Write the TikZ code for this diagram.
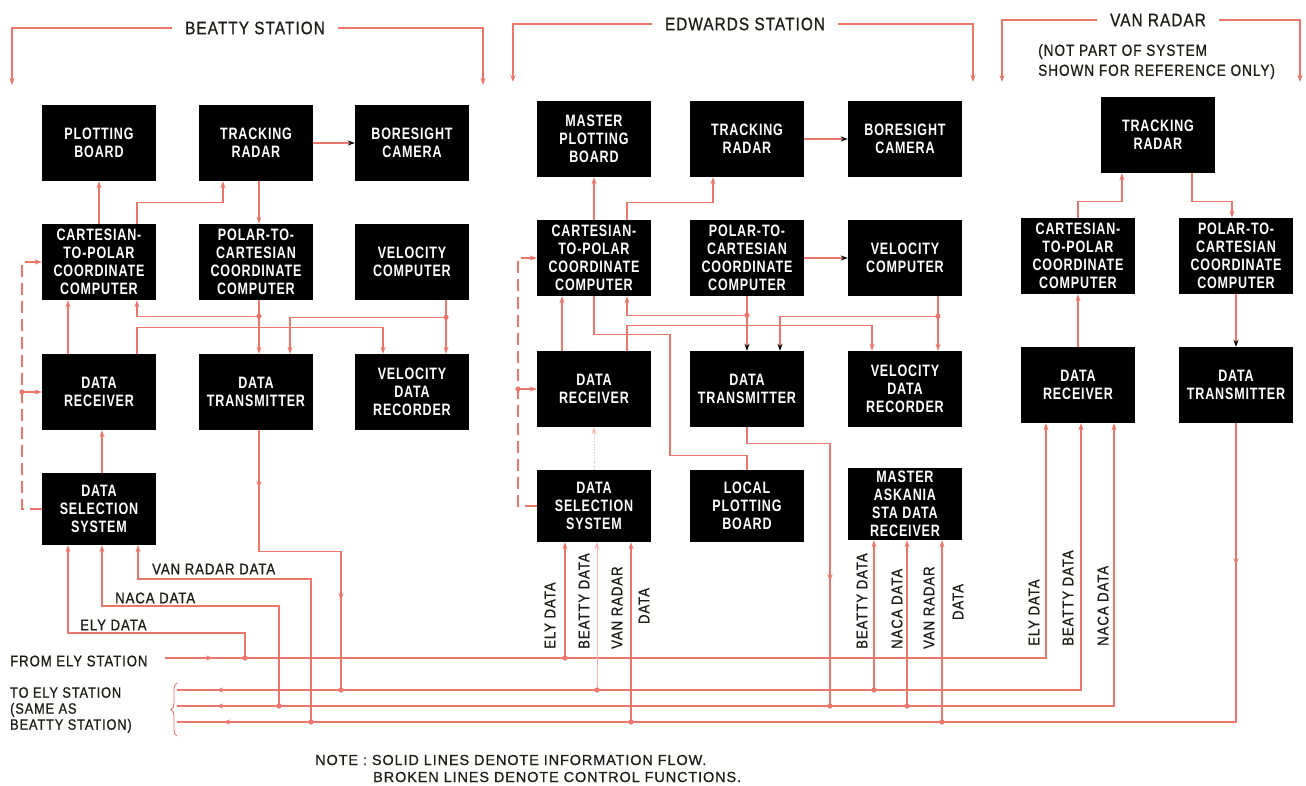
\documentclass[tikz,border=0pt]{standalone}
\usepackage{fontspec}
\usepackage{tikz}
\usetikzlibrary{positioning,arrows.meta,calc,decorations.markings,decorations.pathreplacing}
\newfontfamily\boxfont{Liberation Sans}[FakeStretch=0.76,LetterSpace=5]
\newfontfamily\lblfont{Liberation Sans}[FakeStretch=0.85,LetterSpace=6,FakeBold=0.8]
\newfontfamily\notefont{Liberation Sans}[LetterSpace=6,FakeBold=0.6]
\definecolor{wirered}{RGB}{236,118,106}
\definecolor{ink}{RGB}{28,28,24}

\begin{document}
\begin{tikzpicture}[
  x=1pt,y=-1pt,
  wtip/.tip={Stealth[length=7pt,width=5pt]},
  ktip/.tip={Stealth[length=7pt,width=5pt,color=black]},
  >=wtip,
  blk/.style={fill=black, text=white, align=center, inner sep=0pt,
    minimum width=114pt, minimum height=76pt,
    font=\boxfont\bfseries\fontsize{16.5}{18}\selectfont},
  low/.style={minimum height=72pt},
  bus/.style={draw, color=wirered, line width=1.1pt},
  flow/.style={bus, ->},
  btip/.style={bus, -ktip},
  ctrl/.style={bus, ->, dash pattern=on 12pt off 6pt},
  faint/.style={draw, color=wirered!55, line width=0.8pt, ->},
  head/.style={text=ink, inner xsep=13pt, font=\lblfont\fontsize{18}{20}\selectfont},
  lbl/.style={text=ink, inner sep=0pt, font=\lblfont\fontsize{15.5}{16}\selectfont},
  vlbl/.style={lbl, rotate=90, anchor=west}
]
\fill[white] (0,0) rectangle (1306,785);
\useasboundingbox (0,0) rectangle (1306,785);

% beatty station
\node[blk] (bpb)   at (99,143)  {PLOTTING\\BOARD};
\node[blk] (btr)   at (256,143) {TRACKING\\RADAR};
\node[blk] (bcam)  at (412,143) {BORESIGHT\\CAMERA};
\node[blk] (bctp)  at (99,262)  {CARTESIAN-\\TO-POLAR\\COORDINATE\\COMPUTER};
\node[blk] (bptc)  at (256,262) {POLAR-TO-\\CARTESIAN\\COORDINATE\\COMPUTER};
\node[blk] (bvc)   at (412,262) {VELOCITY\\COMPUTER};
\node[blk] (bdr)   at (99,392)  {DATA\\RECEIVER};
\node[blk] (bdt)   at (256,392) {DATA\\TRANSMITTER};
\node[blk] (bvdr)  at (412,392) {VELOCITY\\DATA\\RECORDER};
\node[blk, low] (bdss) at (99,509) {DATA\\SELECTION\\SYSTEM};

% edwards station
\node[blk] (empb)  at (594,139) {MASTER\\PLOTTING\\BOARD};
\node[blk] (etr)   at (747,139) {TRACKING\\RADAR};
\node[blk] (ecam)  at (905,139) {BORESIGHT\\CAMERA};
\node[blk] (ectp)  at (594,258) {CARTESIAN-\\TO-POLAR\\COORDINATE\\COMPUTER};
\node[blk] (eptc)  at (747,258) {POLAR-TO-\\CARTESIAN\\COORDINATE\\COMPUTER};
\node[blk] (evc)   at (905,258) {VELOCITY\\COMPUTER};
\node[blk] (edr)   at (594,389) {DATA\\RECEIVER};
\node[blk] (edt)   at (747,389) {DATA\\TRANSMITTER};
\node[blk] (evdr)  at (905,389) {VELOCITY\\DATA\\RECORDER};
\node[blk, low] (edss) at (594,506) {DATA\\SELECTION\\SYSTEM};
\node[blk, low] (elpb) at (747,506) {LOCAL\\PLOTTING\\BOARD};
\node[blk, low] (eask) at (905,504) {MASTER\\ASKANIA\\STA DATA\\RECEIVER};

% van radar
\node[blk] (vtr)   at (1158,135) {TRACKING\\RADAR};
\node[blk] (vctp)  at (1078,256) {CARTESIAN-\\TO-POLAR\\COORDINATE\\COMPUTER};
\node[blk] (vptc)  at (1236,256) {POLAR-TO-\\CARTESIAN\\COORDINATE\\COMPUTER};
\node[blk] (vdr)   at (1078,385) {DATA\\RECEIVER};
\node[blk] (vdt)   at (1236,385) {DATA\\TRANSMITTER};

% headings
\node[head] (hbeatty) at (255,28) {BEATTY STATION};
\node[head] (hedw)    at (745,24) {EDWARDS STATION};
\node[head] (hvan)    at (1158,20) {VAN RADAR};
\node[lbl, align=left, anchor=north west, font=\lblfont\fontsize{16}{20}\selectfont] (vnote) at (1038,44)
  {(NOT PART OF SYSTEM\\SHOWN FOR REFERENCE ONLY)};
\coordinate (bl) at (12,85);   \coordinate (br) at (483,85);
\coordinate (el) at (513,82);  \coordinate (er) at (973,82);
\coordinate (vl) at (1002,82); \coordinate (vr) at (1300,82);
\draw[flow] (hbeatty.west) -| (bl);
\draw[flow] (hbeatty.east) -| (br);
\draw[flow] (hedw.west) -| (el);
\draw[flow] (hedw.east) -| (er);
\draw[flow] (hvan.west) -| (vl);
\draw[flow] (hvan.east) -| (vr);

% beatty links
\draw[flow] (bctp.north) -- (bpb.south);
\draw[flow] ([xshift=38pt]bctp.north) -- ++(0,-21) -| ([xshift=-33pt]btr.south);
\draw[btip] (btr.east) -- (bcam.west);
\draw[flow] ([xshift=3pt]btr.south) -- ([xshift=3pt]bptc.north);
\draw[flow] ([xshift=3pt]bptc.south) -- ++(0,16) coordinate (bj1) -- ([xshift=3pt]bdt.north);
\draw[flow] (bj1) -| ([xshift=38pt]bctp.south);
\draw[flow] ([xshift=34pt]bvc.south) -- ++(0,17) coordinate (bj2) -- ([xshift=34pt]bvdr.north);
\draw[flow] (bj2) -| ([xshift=34pt]bdt.north);
\draw[flow] ([xshift=38pt]bdr.north) -- ++(0,-26) -| ([xshift=-29pt]bvdr.north);
\draw[flow] ([xshift=-31pt]bdr.north) -- ([xshift=-31pt]bctp.south);
\draw[flow] ([xshift=3pt]bdss.north) -- ([xshift=3pt]bdr.south);
\coordinate (bctl) at (22,392);
\draw[ctrl] (bdss.west) -| (bctl) |- (bctp.west);
\draw[flow] (bctl) -- (bdr.west);

% edwards links
\draw[flow] (ectp.north) -- (empb.south);
\draw[flow] ([xshift=33pt]ectp.north) -- ++(0,-17) -| ([xshift=-34pt]etr.south);
\draw[btip] (etr.east) -- (ecam.west);
\draw[btip] (eptc.east) -- (evc.west);
\draw[btip] (eptc.south) -- ++(0,19) coordinate (ej1) -- (edt.north);
\draw[flow] (ej1) -| ([xshift=33pt]ectp.south);
\draw[flow] ([xshift=33pt]evc.south) -- ++(0,20) coordinate (ej2) -- ([xshift=33pt]evdr.north);
\draw[btip] (ej2) -| ([xshift=33pt]edt.north);
\draw[flow] ([xshift=33pt]edr.north) -- ++(0,-25) -| ([xshift=-33pt]evdr.north);
\draw[flow] ([xshift=-32pt]edr.north) -- ([xshift=-32pt]ectp.south);
\draw[bus] (ectp.south) -- ++(0,38) -- ++(76,0) -- ++(0,121) -| (elpb.north);
\draw[faint, dotted] (edss.north) -- (edr.south);
\coordinate (ectl) at (518,389);
\draw[ctrl] (edss.west) -| (ectl) |- (ectp.west);
\draw[flow] (ectl) -- (edr.west);

% van radar links
\draw[flow] (vctp.north) -- ++(0,-16) -| ([xshift=-36pt]vtr.south);
\draw[flow] ([xshift=34pt]vtr.south) -- ++(0,28) -| ([xshift=-4pt]vptc.north);
\draw[btip] (vptc.south) -- (vdt.north);
\draw[flow] (vdr.north) -- (vctp.south);

% ely lines
\node[lbl, anchor=west] (fromely) at (10,661) {FROM ELY STATION};
\node[lbl, anchor=west, align=left, font=\lblfont\fontsize{15}{16}\selectfont] (toely) at (10,710)
  {TO ELY STATION\\(SAME AS\\BEATTY STATION)};
\draw[color=wirered, line width=0.9pt, decorate, decoration={brace, amplitude=6pt}] (177,736) -- (177,683);
\coordinate (lfrom) at (165,658);
\coordinate (lt1) at (177,690);
\coordinate (lt2) at (177,706);
\coordinate (lt3) at (177,722);
\draw[flow, postaction={decorate}, decoration={markings,
    mark=at position 48pt with {\arrow{wtip}}}] (lfrom) -| ([xshift=-32pt]vdr.south);
\draw[flow, postaction={decorate}, decoration={markings,
    mark=at position 46pt with {\arrow{wtip[reversed]}}}] (lt1) -| ([xshift=3pt]vdr.south);
\draw[flow, postaction={decorate}, decoration={markings,
    mark=at position 46pt with {\arrow{wtip[reversed]}}}] (lt2) -| ([xshift=36pt]vdr.south);
\draw[bus, postaction={decorate}, decoration={markings,
    mark=at position 142pt with {\arrow{wtip}},
    mark=at position -46pt with {\arrow{wtip}}}] (vdt.south) |- (lt3);

% taps on the lines
\coordinate (bbely) at (245,658);
\coordinate (bbnaca) at (279,706);
\coordinate (bbvan) at (311,722);
\coordinate (bt1) at (341,690);
\coordinate (eely) at (565,658);
\coordinate (ebty) at (597,690);
\coordinate (evan) at (631,722);
\coordinate (et2) at (830,706);
\coordinate (abty) at (874,690);
\coordinate (anaca) at (907,706);
\coordinate (avan) at (942,722);

\draw[bus, postaction={decorate}, decoration={markings,
    mark=at position 58pt with {\arrow{wtip}},
    mark=at position 252pt with {\arrow{wtip}}}] ([xshift=3pt]bdt.south) -- ++(0,121) -| (bt1);
\draw[flow] (bbely) -- ++(0,-25) -| ([xshift=-31pt]bdss.south);
\draw[flow] (bbnaca) -- ++(0,-100) -| ([xshift=3pt]bdss.south);
\draw[flow] (bbvan) -- ++(0,-143) -| ([xshift=39pt]bdss.south);
\draw[bus, postaction={decorate}, decoration={markings,
    mark=at position 237pt with {\arrow{wtip}}}] (edt.south) -- ++(0,16) -| (et2);
\draw[flow] (eely) -- (eely |- edss.south);
\draw[faint] (ebty) -- (ebty |- edss.south);
\draw[flow] (evan) -- (evan |- edss.south);
\draw[flow] (abty) -- (abty |- eask.south);
\draw[flow] (anaca) -- (anaca |- eask.south);
\draw[flow] (avan) -- (avan |- eask.south);

\foreach \p in {bbely,bbnaca,bbvan,bt1,eely,ebty,evan,et2,abty,anaca,avan,bj1,bj2,ej1,ej2,bctl,ectl}
  \fill[wirered] (\p) circle (2.6pt);

% line labels
\node[lbl, anchor=west] (lvan)  at (152,569) {VAN RADAR DATA};
\node[lbl, anchor=west] (lnaca) at (115,598) {NACA DATA};
\node[lbl, anchor=west] (lely)  at (80,625)  {ELY DATA};
\node[vlbl] (eelyl) at (550,649) {ELY DATA};
\node[vlbl] (ebtyl) at (584,649) {BEATTY DATA};
\node[vlbl] (evanl) at (617,649) {VAN RADAR};
\node[lbl, rotate=90] (evanl2) at (644,606) {DATA};
\node[vlbl] (abtyl) at (862,649) {BEATTY DATA};
\node[vlbl] (anacal) at (897,649) {NACA DATA};
\node[vlbl] (avanl) at (929,649) {VAN RADAR};
\node[lbl, rotate=90] (avanl2) at (958,602) {DATA};
\node[vlbl] (velyl) at (1034,646) {ELY DATA};
\node[vlbl] (vbtyl) at (1068,646) {BEATTY DATA};
\node[vlbl] (vnacal) at (1103,646) {NACA DATA};

% note
\node[lbl, anchor=west, font=\notefont\fontsize{14.5}{15}\selectfont] (note1) at (315,760) {NOTE : SOLID LINES DENOTE INFORMATION FLOW.};
\node[lbl, anchor=west, font=\notefont\fontsize{14.5}{15}\selectfont] (note2) at (373,777) {BROKEN LINES DENOTE CONTROL FUNCTIONS.};

\end{tikzpicture}
\end{document}
